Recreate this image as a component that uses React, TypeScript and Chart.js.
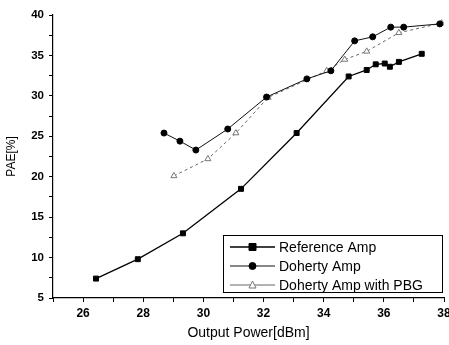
import React, { useEffect, useRef } from "react";
import { Chart, registerables } from "chart.js";

Chart.register(...registerables);

const refX = [26.43, 27.82, 29.32, 31.25, 33.1, 34.83, 35.43, 35.73, 36.03, 36.2, 36.5, 37.26];
const refY = [7.4, 9.8, 13.0, 18.5, 25.4, 32.4, 33.2, 33.9, 34.0, 33.6, 34.2, 35.2];
const dohX = [28.69, 29.22, 29.75, 30.81, 32.1, 33.44, 34.24, 35.03, 35.63, 36.23, 36.66, 37.86];
const dohY = [25.4, 24.4, 23.3, 25.9, 29.85, 32.1, 33.1, 36.8, 37.3, 38.5, 38.5, 38.9];
const pbgX = [29.02, 30.15, 31.08, 32.15, 34.1, 34.7, 35.43, 36.5, 37.92];
const pbgY = [20.1, 22.2, 25.4, 29.8, 33.1, 34.5, 35.5, 37.8, 39.0];
const labels = ["Reference Amp", "Doherty Amp", "Doherty Amp with PBG"];
const xTitle = "Output Power[dBm]";
const yTitle = "PAE[%]";

const pts = (xs: number[], ys: number[]) => xs.map((x, i) => ({ x, y: ys[i] }));

const FONT = "'Liberation Sans', Arial, sans-serif";

const legendPlugin = {
  id: "boxLegend",
  afterDraw(chart: any) {
    const { ctx, chartArea } = chart;
    const right = chartArea.right - 1;
    const bottom = chartArea.bottom - 5;
    const w = 220;
    const h = 58;
    const left = right - w;
    const top = bottom - h;
    ctx.save();
    ctx.fillStyle = "#fff";
    ctx.fillRect(left, top, w, h);
    ctx.strokeStyle = "#000";
    ctx.lineWidth = 1;
    ctx.strokeRect(left + 0.5, top + 0.5, w - 1, h - 1);
    const rowH = 19;
    chart.data.datasets.forEach((ds: any, i: number) => {
      const cy = top + 12 + i * rowH;
      const x0 = left + 7;
      const x1 = left + 52;
      const mx = (x0 + x1) / 2;
      ctx.strokeStyle = ds.borderColor;
      ctx.lineWidth = ds.borderWidth;
      ctx.setLineDash([]);
      ctx.beginPath();
      ctx.moveTo(x0, cy);
      ctx.lineTo(x1, cy);
      ctx.stroke();
      ctx.fillStyle = ds.pointBackgroundColor;
      ctx.strokeStyle = ds.pointBorderColor;
      ctx.lineWidth = 1;
      const r = 3.5;
      ctx.beginPath();
      if (ds.pointStyle === "rect") {
        ctx.rect(mx - r, cy - r, 2 * r, 2 * r);
      } else if (ds.pointStyle === "circle") {
        ctx.arc(mx, cy, r, 0, Math.PI * 2);
      } else {
        ctx.moveTo(mx, cy - r - 0.5);
        ctx.lineTo(mx + r, cy + r - 0.5);
        ctx.lineTo(mx - r, cy + r - 0.5);
        ctx.closePath();
      }
      ctx.fill();
      ctx.stroke();
      ctx.fillStyle = "#000";
      ctx.font = `14px ${FONT}`;
      ctx.textBaseline = "middle";
      ctx.textAlign = "left";
      ctx.fillText(ds.label, left + 56, cy + 1);
    });
    ctx.restore();
  },
};

export default function App() {
  const ref = useRef<HTMLCanvasElement>(null);
  useEffect(() => {
    const chart = new Chart(ref.current!, {
      type: "line",
      data: {
        datasets: [
          {
            label: labels[0],
            data: pts(refX, refY),
            borderColor: "#000",
            borderWidth: 1.3,
            pointStyle: "rect",
            pointRadius: 3.5,
            pointBackgroundColor: "#000",
            pointBorderColor: "#000",
            pointBorderWidth: 1,
          },
          {
            label: labels[1],
            data: pts(dohX, dohY),
            borderColor: "#111",
            borderWidth: 1,
            pointStyle: "circle",
            pointRadius: 3,
            pointBackgroundColor: "#000",
            pointBorderColor: "#000",
            pointBorderWidth: 1,
          },
          {
            label: labels[2],
            data: pts(pbgX, pbgY),
            borderColor: "#666",
            borderWidth: 1,
            borderDash: [3, 3],
            pointStyle: "triangle",
            pointRadius: 3.5,
            pointBackgroundColor: "#fff",
            pointBorderColor: "#777",
            pointBorderWidth: 1,
          },
        ],
      },
      options: {
        animation: false,
        responsive: false,
        maintainAspectRatio: false,
        layout: { padding: { left: 0, top: 15, right: 3, bottom: 0 } },
        plugins: { legend: { display: false }, tooltip: { enabled: false } },
        scales: {
          x: {
            type: "linear",
            min: 25,
            max: 38,
            ticks: {
              stepSize: 1,
              autoSkip: false,
              maxRotation: 0,
              padding: 4,
              color: "#000",
              font: { family: FONT, size: 12, weight: "bold" },
              callback: (v: any) => (Number(v) % 2 === 0 ? String(v) : ""),
            },
            grid: { drawOnChartArea: false, drawTicks: true, tickLength: 4, color: "#000" },
            border: { display: true, color: "#000", width: 1.2 },
            title: {
              display: true,
              text: xTitle,
              color: "#000",
              font: { family: FONT, size: 14 },
              padding: { top: 0, bottom: 3 },
            },
            afterFit: (s: any) => {
              s.height = 47;
              s.paddingLeft = 0;
              s.paddingRight = 0;
            },
          },
          y: {
            type: "linear",
            min: 5,
            max: 40,
            ticks: {
              stepSize: 2.5,
              autoSkip: false,
              padding: 5,
              color: "#000",
              font: { family: FONT, size: 11.5, weight: "bold" },
              callback: (v: any) => (Number(v) % 5 === 0 ? String(v) : ""),
            },
            grid: { drawOnChartArea: false, drawTicks: true, tickLength: 4, color: "#000" },
            border: { display: true, color: "#000", width: 1.2 },
            title: {
              display: true,
              text: yTitle,
              color: "#000",
              font: { family: FONT, size: 12 },
              padding: { top: 4, bottom: 0 },
            },
            afterFit: (s: any) => {
              s.width = 53;
              s.paddingTop = 0;
              s.paddingBottom = 0;
            },
          },
        },
      },
      plugins: [legendPlugin],
    } as any);
    return () => chart.destroy();
  }, []);
  return (
    <div style={{ position: "fixed", left: 0, top: 0, width: 449, height: 345, background: "#fff" }}>
      <canvas ref={ref} width={449} height={345} style={{ display: "block" }} />
    </div>
  );
}
